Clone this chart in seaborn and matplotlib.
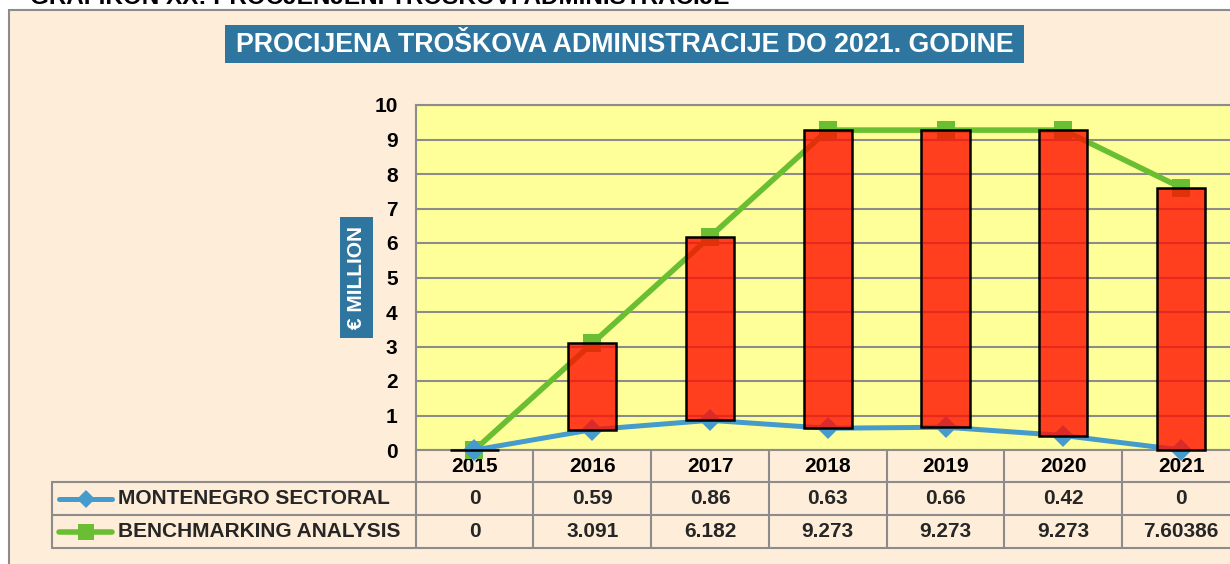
import numpy as np
import pandas as pd
import seaborn as sns
import matplotlib
matplotlib.use("Agg")
import matplotlib.pyplot as plt
from matplotlib.transforms import Affine2D, blended_transform_factory
from matplotlib.lines import Line2D
from matplotlib.patches import Rectangle

# ---------------- data ----------------
years = ["2015", "2016", "2017", "2018", "2019", "2020", "2021"]
montenegro_sectoral = [0, 0.59, 0.86, 0.63, 0.66, 0.42, 0]
benchmarking_analysis = [0, 3.091, 6.182, 9.273, 9.273, 9.273, 7.60386]
series_names = ["MONTENEGRO SECTORAL", "BENCHMARKING ANALYSIS"]
title_text = "PROCIJENA TROŠKOVA ADMINISTRACIJE DO 2021. GODINE"
caption_text = "GRAFIKON XX: PROCJENJENI TROŠKOVI ADMINISTRACIJE"
y_label = "€ MILLION"
y_ticks = list(range(0, 11))

# ---------------- style ----------------
W, H = 1230, 564
PEACH = "#FDEDD9"
YELLOW = "#FFFF99"
TEAL = "#2E76A0"
GRID = "#8C8C8C"
GREEN = "#6ABE32"
BLUE = "#469BCD"
BAR = (1.0, 0.06, 0.0, 0.8)

sns.set_theme(style="white")
plt.rcParams["font.family"] = ["Liberation Sans", "DejaVu Sans"]
plt.rcParams["font.weight"] = "bold"

fig = plt.figure(figsize=(W / 100, H / 100), dpi=100)
fig.patch.set_facecolor("white")
pix = Affine2D().scale(1 / W, -1 / H).translate(0, 1) + fig.transFigure

# outer panel
fig.patches.append(Rectangle((9, 10), 1400, 700, transform=pix,
                             facecolor=PEACH, edgecolor=GRID, lw=1.5, zorder=-5))

# caption cut at the top of the page (as in the source image)
fig.text(30, 3.5, caption_text, transform=pix, fontsize=17.5, fontweight="bold",
         color="black", ha="left", va="baseline")

# title box
fig.patches.append(Rectangle((225, 25), 799, 38, transform=pix,
                             facecolor=TEAL, edgecolor="none", zorder=1))
fig.text(624.5, 45, title_text, transform=pix, fontsize=19.3, fontweight="bold",
         color="white", ha="center", va="center", zorder=2)

# y label box
fig.patches.append(Rectangle((340, 217), 33, 121, transform=pix,
                             facecolor=TEAL, edgecolor="none", zorder=1))
fig.text(356.5, 277.5, y_label, transform=pix, fontsize=15, fontweight="bold",
         color="white", ha="center", va="center", rotation=90, zorder=2)

# ---------------- main axes ----------------
left_px, right_px, top_px, bot_px = 415.6, 1240.0, 105.0, 450.0
ax = fig.add_axes([left_px / W, (H - bot_px) / H,
                   (right_px - left_px) / W, (bot_px - top_px) / H])
ax.set_zorder(2)
ax.set_facecolor(YELLOW)
ax.set_xlim(-0.5, 6.5)
ax.set_ylim(0, 10)

df = pd.DataFrame({"x": np.arange(len(years)),
                   "year": years,
                   "ms": montenegro_sectoral,
                   "ba": benchmarking_analysis})

G_LW, G_MS, B_LW, B_MS = 4.0, 13, 3.6, 11

sns.lineplot(data=df, x="x", y="ba", color=GREEN, lw=G_LW, marker="s",
             markersize=G_MS, markeredgewidth=0, ax=ax, clip_on=False, zorder=3)
sns.lineplot(data=df, x="x", y="ms", color=BLUE, lw=B_LW, marker="D",
             markersize=B_MS, markeredgewidth=0, ax=ax, clip_on=False, zorder=3)

ax.bar(df["x"], df["ba"] - df["ms"], bottom=df["ms"], width=0.41,
       facecolor=BAR, edgecolor="black", linewidth=1.8, zorder=4, clip_on=False)

ax.yaxis.grid(True, color=GRID, lw=1.5)
ax.set_axisbelow(True)
for s in ["top", "left", "bottom"]:
    ax.spines[s].set_color(GRID)
    ax.spines[s].set_linewidth(1.5)
ax.spines["right"].set_visible(False)
ax.set_yticks(y_ticks)
ax.set_yticklabels([str(t) for t in y_ticks], fontsize=15, fontweight="bold")
ax.set_xticks(df["x"])
ax.set_xticklabels(years, fontsize=15, fontweight="bold")
ax.tick_params(axis="y", length=0, pad=13, colors="black")
ax.tick_params(axis="x", length=0, pad=5, colors="black")
ax.set_xlabel("")
ax.set_ylabel("")

# ---------------- data table ----------------
btr = blended_transform_factory(ax.transData, pix)
row_edges = [450, 482, 515, 548]
tab_left = 52
for k in range(len(years) + 1):
    fig.add_artist(Line2D([k - 0.5, k - 0.5], [450, 548], transform=btr,
                          color=GRID, lw=1.5, clip_on=False))
fig.add_artist(Line2D([tab_left, tab_left], [482, 548], transform=pix,
                      color=GRID, lw=1.5))
for yy in row_edges[1:]:
    fig.add_artist(Line2D([tab_left, 1300], [yy, yy], transform=pix,
                          color=GRID, lw=1.5))

rows = [(series_names[0], montenegro_sectoral, BLUE, "D", B_MS - 2, B_LW),
        (series_names[1], benchmarking_analysis, GREEN, "s", G_MS - 1.5, G_LW)]
for r, (name, vals, col, mk, ms, lw) in enumerate(rows):
    yc = (row_edges[r + 1] + row_edges[r + 2]) / 2
    fig.add_artist(Line2D([59, 112], [yc, yc], transform=pix, color=col,
                          lw=lw, solid_capstyle="round"))
    fig.add_artist(Line2D([85.5], [yc], transform=pix, color=col, marker=mk,
                          markersize=ms, markeredgewidth=0, lw=0))
    fig.text(118, yc, name, transform=pix, fontsize=15, fontweight="bold",
             ha="left", va="center")
    for i, v in enumerate(vals):
        fig.text(i, yc, f"{v:g}", transform=btr, fontsize=15,
                 fontweight="bold", ha="center", va="center")

fig.savefig("out.png", dpi=100, facecolor=fig.get_facecolor())
